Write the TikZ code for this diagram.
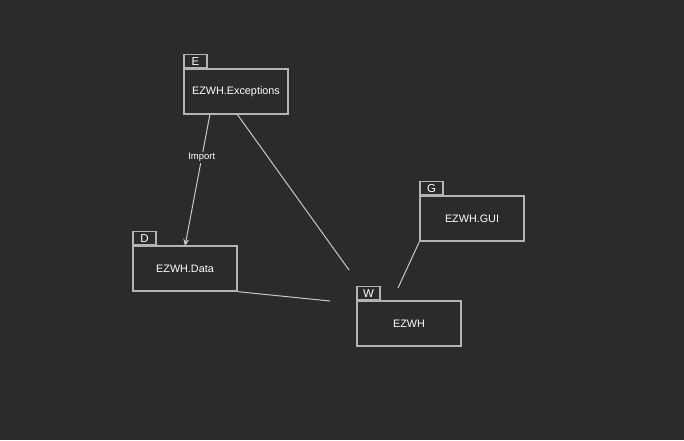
\documentclass[tikz,border=0pt]{standalone}
\usepackage{fontspec}
\setmainfont{Liberation Sans}
\usetikzlibrary{arrows.meta}
\usepackage{xcolor}
\definecolor{bg}{HTML}{2B2B2B}
\definecolor{edge}{HTML}{C8C8C8}
\definecolor{frame}{HTML}{B4B4B4}

\begin{document}
\begin{tikzpicture}[x=1pt, y=-1pt, font=\fontsize{10.8}{12}\selectfont]
\tikzset{pkg/.style={draw=frame, text=white, line width=1.3pt, minimum width=104pt, minimum height=45pt, inner sep=0pt, align=center} }
\tikzset{pkgtab/.style={draw=frame, text=white, line width=1.3pt, minimum width=23pt, minimum height=13pt, inner sep=0pt, anchor=south west, font=\fontsize{11.5}{12}\selectfont} }
\tikzset{>={Stealth[width=6pt,length=7pt]}}
\fill[bg] (0,0) rectangle (684,440);
\useasboundingbox (0,0) rectangle (684,440);
\node[pkg] (exc) at (236,91.5) {EZWH.Exceptions};
\node[pkgtab] (exctab) at (exc.north west) {E};
\node[pkg] (data) at (185,268.5) {EZWH.Data};
\node[pkgtab] (datatab) at (data.north west) {D};
\node[pkg] (gui) at (472,218.5) {EZWH.GUI};
\node[pkgtab] (guitab) at (gui.north west) {G};
\node[pkg] (ezwh) at (409,323.5) {EZWH};
\node[pkgtab] (ezwhtab) at (ezwh.north west) {W};
\coordinate (ezwhA) at (349,270);
\coordinate (ezwhB) at (330,301);
\coordinate (ezwhC) at (398,288);
\draw[->, edge, line width=1pt] (210,114) -- node[pos=0.33, fill=bg, text=white, inner sep=1pt, font=\fontsize{9.5}{10}\selectfont] {Import} (185,246);
\draw[edge, line width=1pt] (237,114) -- (ezwhA);
\draw[edge, line width=1pt] (data.south east) -- (ezwhB);
\draw[edge, line width=1pt] (gui.south west) -- (ezwhC);
\end{tikzpicture}
\end{document}
